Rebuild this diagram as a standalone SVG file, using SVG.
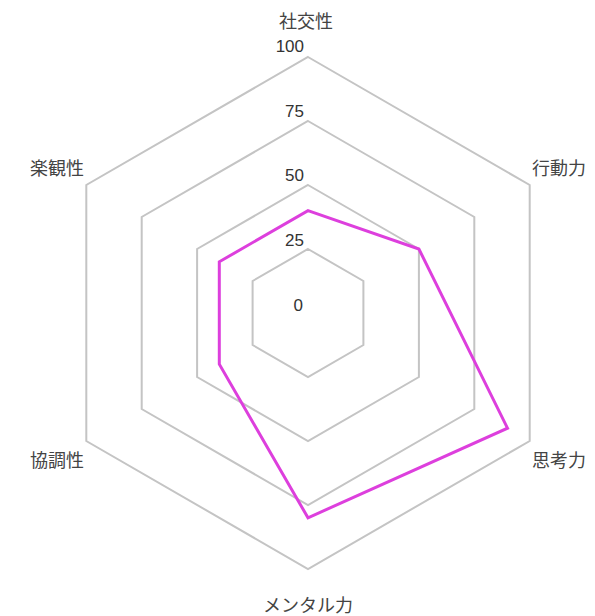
<svg xmlns="http://www.w3.org/2000/svg" width="595" height="616" viewBox="0 0 595 616">
  <style>
    .grid { fill: none; stroke: #c4c4c4; stroke-width: 2; stroke-linejoin: miter; }
    .data { fill: none; stroke: #dd3fdd; stroke-width: 3; stroke-linejoin: miter; }
    .axis { font-family: "Liberation Sans", "Noto Sans CJK JP", sans-serif; font-size: 18px; fill: #444; }
    .tick { font-family: "Liberation Sans", Arial, sans-serif; font-size: 17px; fill: #333; text-anchor: end; }
  </style>
  <rect width="595" height="616" fill="#ffffff"/>
  <g id="grid">
    <polygon class="grid" points="308,57 529.7,185 529.7,441 308,569 86.3,441 86.3,185"/>
    <polygon class="grid" points="308,121 474.3,217 474.3,409 308,505 141.7,409 141.7,217"/>
    <polygon class="grid" points="308,185 418.9,249 418.9,377 308,441 197.1,377 197.1,249"/>
    <polygon class="grid" points="308,249 363.4,281 363.4,345 308,377 252.6,345 252.6,281"/>
  </g>
  <g id="ticks">
    <text class="tick" x="304" y="52">100</text>
    <text class="tick" x="304" y="117">75</text>
    <text class="tick" x="304" y="181">50</text>
    <text class="tick" x="304" y="246">25</text>
    <text class="tick" x="303" y="311">0</text>
  </g>
  <g id="series">
    <polygon class="data" points="308,210.6 418.9,249 507.5,428.2 308,517.8 219.3,364.2 219.3,261.8"/>
  </g>
  <g id="labels">
    <g id="label-shakousei"><text class="axis" x="306" y="28" text-anchor="middle">社交性</text></g>
    <g id="label-koudouryoku"><text class="axis" x="532" y="175" text-anchor="start">行動力</text></g>
    <g id="label-shikouryoku"><text class="axis" x="532" y="467" text-anchor="start">思考力</text></g>
    <g id="label-mentaru"><text class="axis" x="308" y="612" text-anchor="middle">メンタル力</text></g>
    <g id="label-kyouchousei"><text class="axis" x="84" y="467" text-anchor="end">協調性</text></g>
    <g id="label-rakkansei"><text class="axis" x="84" y="175" text-anchor="end">楽観性</text></g>
  </g>
</svg>
